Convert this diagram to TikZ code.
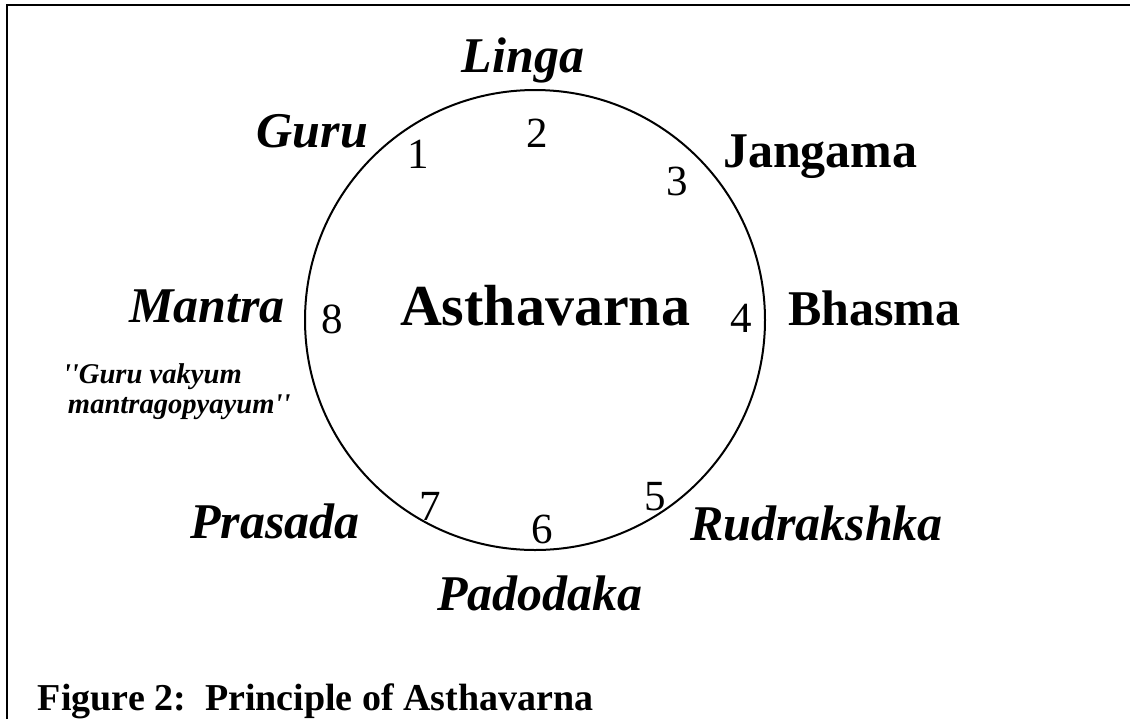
\documentclass[tikz,border=0pt]{standalone}
\usepackage{fontspec}
\setmainfont{Liberation Serif}[Ligatures=TeXOff]
\begin{document}
\begin{tikzpicture}[x=0.5pt,y=-0.5pt,
  lab/.style={inner sep=0pt,outer sep=0pt,font=\fontsize{25}{30}\selectfont\bfseries\itshape},
  labup/.style={inner sep=0pt,outer sep=0pt,font=\fontsize{25}{30}\selectfont\bfseries},
  num/.style={inner sep=0pt,outer sep=0pt,anchor=base,font=\fontsize{21.5}{26}\selectfont},
  quote/.style={inner sep=0pt,outer sep=0pt,anchor=base west,font=\fontsize{14.3}{17}\selectfont\bfseries\itshape},
  frameline/.style={line width=1pt}]
\useasboundingbox (0,0) rectangle (1130,719);
\fill[white] (0,0) rectangle (1130,719);
\coordinate (fbl) at (7,719);
\coordinate (ftl) at (7,5);
\coordinate (ftr) at (1130,5);
\draw[frameline] (fbl) -- (ftl) -- (ftr);
\node[circle,draw,line width=1pt,minimum size=230pt,inner sep=0pt] (circ) at (535,320) {};
\node[inner sep=0pt,outer sep=0pt,anchor=base west,font=\fontsize{29}{34}\selectfont\bfseries] (center) at (400,325) {Asthavarna};
\node[lab,anchor=base] (linga) at (523,72) {Linga};
\node[lab,anchor=base east] (guru) at (368,147) {Guru};
\node[labup,anchor=base west] (jangama) at (723,167) {Jangama};
\node[lab,anchor=base east] (mantra) at (285,322) {Mantra};
\node[labup,anchor=base west] (bhasma) at (788,325) {Bhasma};
\node[lab,anchor=base west] (prasada) at (190,538) {Prasada};
\node[lab,anchor=base west] (rudra) at (690,540) {Rudrakshka};
\node[lab,anchor=base] (padodaka) at (540,610) {Padodaka};
\node[num] (n1) at (418,168) {1};
\node[num] (n2) at (537,147) {2};
\node[num] (n3) at (677,195) {3};
\node[num] (n4) at (741,332) {4};
\node[num] (n5) at (655,510) {5};
\node[num] (n6) at (542,543) {6};
\node[num] (n7) at (430,520) {7};
\node[num] (n8) at (332,333) {8};
\node[quote] (q1) at (63,383) {''Guru vakyum};
\node[quote] (q2) at (68,413) {mantragopyayum''};
\node[inner sep=0pt,outer sep=0pt,anchor=base west,font=\fontsize{19}{23}\selectfont\bfseries] (caption) at (38,710) {Figure 2:\ \ Principle of Asthavarna};
\end{tikzpicture}
\end{document}
